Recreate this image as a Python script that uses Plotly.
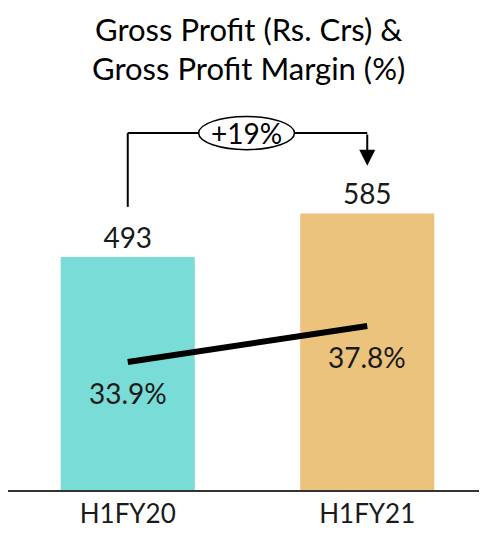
import plotly.graph_objects as go

categories = ["H1FY20", "H1FY21"]
gross_profit = [493, 585]
gp_margin = [33.9, 37.8]
margin_labels = ["33.9%", "37.8%"]
growth_label = "+19%"
title_lines = ["Gross Profit (Rs. Crs) &", "Gross Profit Margin (%)"]
bar_colors = ["#79DCD7", "#EBC37D"]

FONT = "Lato"
TXT = "#1a1a1a"
fig = go.Figure()
fig.add_trace(go.Bar(
    x=[0, 1], y=gross_profit, width=0.56, marker=dict(color=bar_colors, line=dict(width=0)),
    text=[str(v) for v in gross_profit], textposition="outside",
    textfont=dict(size=28, color=TXT, family=FONT), cliponaxis=False,
))
fig.add_trace(go.Scatter(
    x=[0, 1], y=gp_margin, yaxis="y2", mode="lines",
    line=dict(color="black", width=6), cliponaxis=False,
))
for i, (v, lab) in enumerate(zip(gp_margin, margin_labels)):
    fig.add_annotation(x=i, y=v, xref="x", yref="y2", text=lab, showarrow=False,
                       yshift=-31, font=dict(size=28, color=TXT, family=FONT))

# bracket showing growth
y_top = 755
fig.add_shape(type="line", xref="x", yref="y", x0=0, x1=0, y0=599, y1=y_top,
              line=dict(color="black", width=2))
fig.add_shape(type="line", xref="x", yref="y", x0=0, x1=1, y0=y_top, y1=y_top,
              line=dict(color="black", width=2))
fig.add_annotation(x=1, y=686, ax=1, ay=y_top, xref="x", yref="y", axref="x", ayref="y",
                   text="", showarrow=True, arrowhead=2, arrowsize=1.6, arrowwidth=2,
                   arrowcolor="black")
fig.add_shape(type="circle", xref="x", yref="y", x0=0.296, x1=0.696, y0=720, y1=790,
              line=dict(color="black", width=1.5), fillcolor="white")
fig.add_annotation(x=0.496, y=y_top, xref="x", yref="y", text=growth_label, showarrow=False,
                   font=dict(size=28, color="black", family=FONT))

# title as two centred lines
for yy, line in zip([1.183, 1.083], title_lines):
    fig.add_annotation(x=0.503, y=yy, xref="paper", yref="paper", text=line, showarrow=False,
                       xanchor="center", yanchor="middle", borderpad=0,
                       font=dict(size=31, color="black", family=FONT))

fig.update_layout(
    width=487, height=534,
    margin=dict(l=0, r=8, t=92, b=52),
    paper_bgcolor="white", plot_bgcolor="white",
    showlegend=False,
    xaxis=dict(range=[-0.5, 1.5], tickvals=[0, 1], ticktext=categories, showgrid=False,
               showline=True, linecolor="#333333", linewidth=1.5, ticks="",
               tickfont=dict(size=26, color=TXT, family=FONT), zeroline=False),
    yaxis=dict(range=[0, 825], visible=False, showgrid=False),
    yaxis2=dict(range=[20.03, 62.29], overlaying="y", visible=False, showgrid=False),
)
fig.write_html("out.html")
